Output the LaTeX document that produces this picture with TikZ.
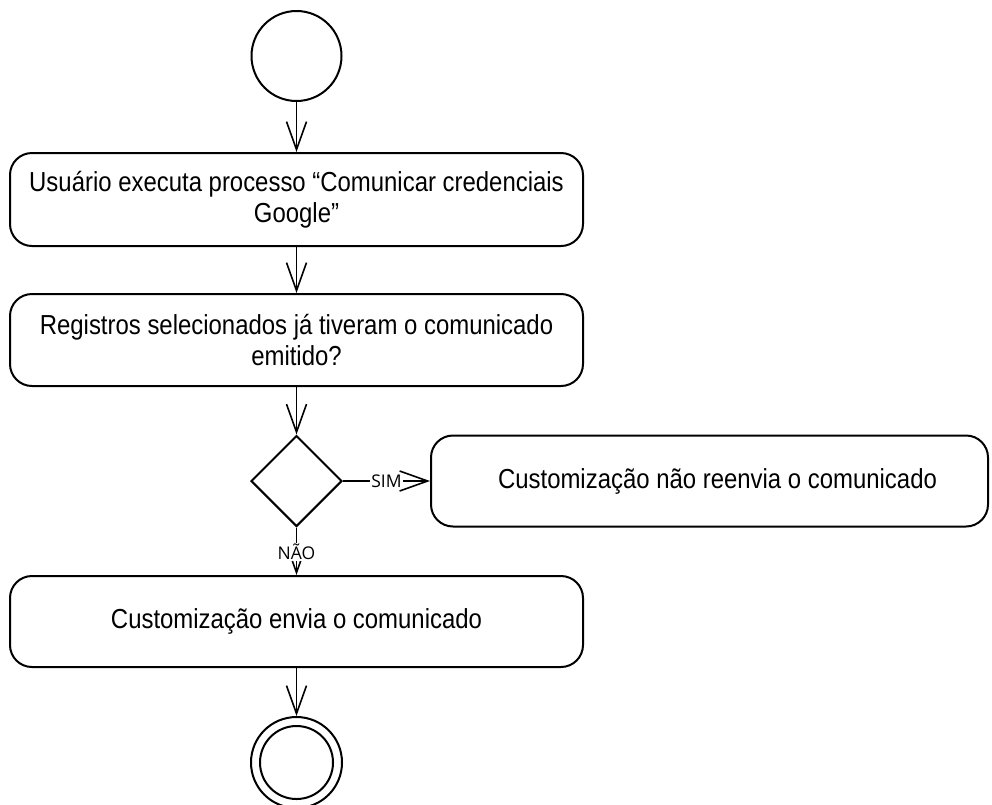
\documentclass[tikz,border=0pt]{standalone}
\usepackage{fontspec}
\setmainfont{Liberation Sans}[FakeStretch=0.87]
\newfontfamily\labelfont{Open Sans}
\usetikzlibrary{arrows.meta,shapes.geometric}
\begin{document}
\begin{tikzpicture}[x=1pt,y=-1pt,
  every path/.style={line width=2pt},
  act/.style={draw, rounded corners=22pt, line width=2pt, align=center, inner sep=0pt, font=\fontsize{27.5}{31}\selectfont},
  flow/.style={draw, line width=1.6pt, -{Straight Barb[length=28pt,width=20pt,line width=1.6pt]}},
  lbl/.style={fill=white, inner sep=1pt, font=\labelfont\fontsize{17.5}{20}\selectfont}]
\useasboundingbox (0,0) rectangle (992,804);
\node[draw, circle, minimum size=90pt, inner sep=0pt, line width=2pt] (start) at (296.5,56) {};
\node[act, minimum width=573pt, minimum height=93pt] (a1) at (296.5,199.5) {Usuário executa processo “Comunicar credenciais\\Google”};
\node[act, minimum width=573pt, minimum height=92pt] (a2) at (296.5,340) {Registros selecionados já tiveram o comunicado\\emitido?};
\node[draw, diamond, aspect=1, minimum width=91pt, minimum height=91pt, inner sep=0pt, line width=2pt] (d) at (296.5,481) {};
\node[act, minimum width=557pt, minimum height=91pt, anchor=west] (a3) at (430,481) {\hspace*{16pt}Customização não reenvia o comunicado};
\node[act, minimum width=573pt, minimum height=91pt] (a4) at (296.5,621.5) {Customização envia o comunicado};
\node[draw, circle, minimum size=91pt, inner sep=0pt, line width=2pt] (end) at (296.5,762.5) {};
\node[draw, circle, minimum size=73pt, inner sep=0pt, line width=2pt] (endin) at (296.5,762.5) {};
\draw[flow] (start) -- (a1);
\draw[flow] (a1) -- (a2);
\draw[flow] (a2) -- (d.north);
\draw[flow] (d.east) -- node[lbl]{SIM} (a3.west);
\draw[flow] (d.south) -- node[lbl, pos=0.52]{NÃO} (a4.north);
\draw[flow] (a4) -- (end.north);
\end{tikzpicture}
\end{document}
